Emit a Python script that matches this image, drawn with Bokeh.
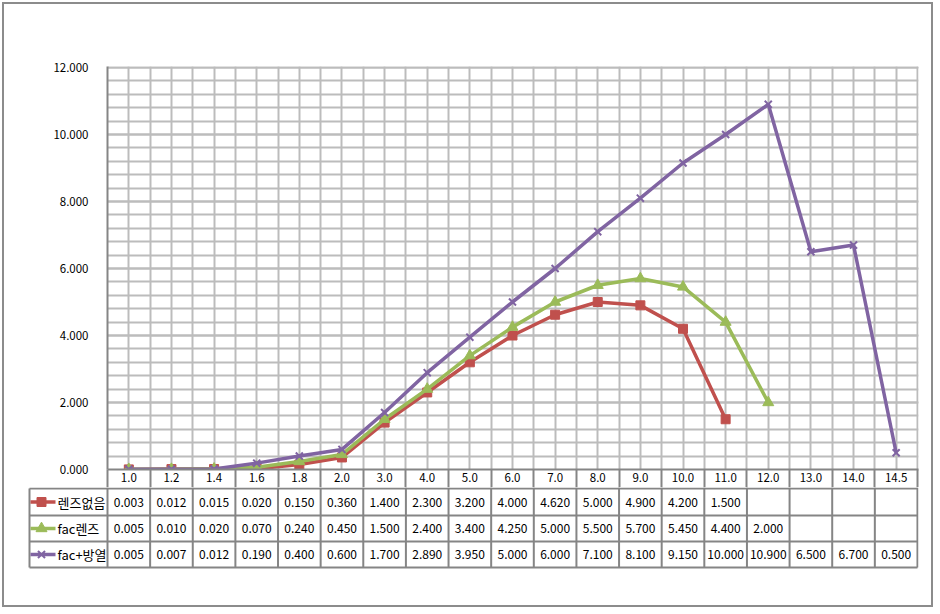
from bokeh.plotting import figure
from bokeh.layouts import column
from bokeh.models import Range1d, FixedTicker, NumeralTickFormatter, Label
from bokeh.core.properties import value
from bokeh.embed import file_html
from bokeh.resources import INLINE

# ---- data ----
categories = ["1.0", "1.2", "1.4", "1.6", "1.8", "2.0", "3.0", "4.0", "5.0", "6.0",
              "7.0", "8.0", "9.0", "10.0", "11.0", "12.0", "13.0", "14.0", "14.5"]
no_lens = [0.003, 0.012, 0.015, 0.020, 0.150, 0.360, 1.400, 2.300, 3.200, 4.000,
           4.620, 5.000, 4.900, 4.200, 1.500]
fac_lens = [0.005, 0.010, 0.020, 0.070, 0.240, 0.450, 1.500, 2.400, 3.400, 4.250,
            5.000, 5.500, 5.700, 5.450, 4.400, 2.000]
fac_heat = [0.005, 0.007, 0.012, 0.190, 0.400, 0.600, 1.700, 2.890, 3.950, 5.000,
            6.000, 7.100, 8.100, 9.150, 10.000, 10.900, 6.500, 6.700, 0.500]
series_names = ["렌즈없음", "fac렌즈", "fac+방열"]
y_ticks = [0, 2, 4, 6, 8, 10, 12]
y_title = "출력(W)"

# ---- styles ----
FONT = "Noto Sans CJK KR"
RED, GREEN, PURPLE = "#C0504D", "#9BBB59", "#8064A2"
GRID = "#bcbcbc"
BORDER = "#858585"
CAT_W = 42.63      # px per category
PX_Y = 33.5        # px per unit of output
X_END = 811 / CAT_W
LEG_L = -78 / CAT_W

series = [
    (series_names[0], no_lens, RED, "square", 9),
    (series_names[1], fac_lens, GREEN, "triangle", 11),
    (series_names[2], fac_heat, PURPLE, "x", 10),
]
ncat = len(categories)
centers = [i + 0.5 for i in range(ncat)]

# ---- chart (with category header row as its x axis) ----
p1 = figure(width=927, height=483, x_range=Range1d(0, X_END),
            y_range=Range1d(0, 12 + 1 / PX_Y), title=None,
            output_backend="svg", toolbar_location=None,
            min_border_left=103, min_border_right=13, min_border_top=62,
            min_border_bottom=18)
p1.frame_align = False
p1.outline_line_color = None

ax = p1.yaxis[0]
ax.ticker = FixedTicker(ticks=y_ticks, minor_ticks=[round(0.4 * i, 1) for i in range(31)])
ax.formatter = NumeralTickFormatter(format="0.000")
ax.major_tick_line_color = None
ax.minor_tick_line_color = None
ax.axis_line_color = BORDER
ax.axis_line_width = 2
ax.major_label_standoff = 13
ax.major_label_text_font = FONT
ax.major_label_text_font_size = "11.5px"
ax.major_label_text_color = "#000000"

xa = p1.xaxis[0]
xa.ticker = FixedTicker(ticks=centers, minor_ticks=list(range(ncat + 1)))
xa.major_label_overrides = {c: lab for c, lab in zip(centers, categories)}
xa.major_tick_line_color = None
xa.minor_tick_in = 0
xa.minor_tick_out = 18
xa.minor_tick_line_color = BORDER
xa.minor_tick_line_width = 2
xa.axis_line_color = BORDER
xa.axis_line_width = 2
xa.major_label_standoff = -15
xa.major_label_text_font = FONT
xa.major_label_text_font_size = "11.5px"
xa.major_label_text_color = "#000000"

p1.ygrid.grid_line_color = GRID
p1.ygrid.grid_line_width = 2
p1.ygrid.minor_grid_line_color = GRID
p1.ygrid.minor_grid_line_width = 2
p1.xgrid.grid_line_color = GRID
p1.xgrid.grid_line_width = 2
p1.xgrid.minor_grid_line_color = GRID
p1.xgrid.minor_grid_line_width = 2

for name, vals, col, mk, sz in series:
    xs = centers[:len(vals)]
    p1.line(xs, vals, line_color=col, line_width=3.5)
    if mk == "x":
        p1.scatter(xs, vals, marker=mk, size=sz, line_color=col, line_width=2)
    else:
        p1.scatter(xs, vals, marker=mk, size=sz, fill_color=col, line_color=col)

p1.add_layout(Label(x=-91 / CAT_W, y=6, text=y_title, text_font=FONT,
                    text_font_size="12px", text_font_style="bold",
                    text_align="left", text_baseline="middle", text_color="#000000"))

# ---- data table rows ----
p2 = figure(width=927, height=118, x_range=Range1d(-81 / CAT_W, X_END),
            y_range=Range1d(103, 18), x_axis_location=None, y_axis_location=None,
            title=None, output_backend="svg", toolbar_location=None,
            min_border_left=22, min_border_right=13, min_border_top=0,
            min_border_bottom=33)
p2.frame_align = False
p2.outline_line_color = None
p2.grid.visible = False

row_tops = [19, 46, 72, 98]
row_mid = [32.5, 59, 85]

p2.segment(x0=list(range(ncat + 1)), y0=[18] * (ncat + 1),
           x1=list(range(ncat + 1)), y1=[98] * (ncat + 1),
           line_color=BORDER, line_width=2)
p2.segment(x0=[LEG_L], y0=[19], x1=[LEG_L], y1=[98], line_color=BORDER, line_width=2)
p2.segment(x0=[LEG_L] * 4, y0=row_tops, x1=[ncat] * 4, y1=row_tops,
           line_color=BORDER, line_width=2)

for r, (name, vals, col, mk, sz) in enumerate(series):
    ym = row_mid[r]
    p2.text(x=centers[:len(vals)], y=[ym] * len(vals),
            text=[f"{v:.3f}" for v in vals], text_font=value(FONT),
            text_font_size="12px", text_align="center", text_baseline="middle",
            text_color="#000000")
    p2.line([-77 / CAT_W, -52 / CAT_W], [ym, ym], line_color=col, line_width=3.5)
    if mk == "x":
        p2.scatter([-66 / CAT_W], [ym], marker=mk, size=sz, line_color=col, line_width=2)
    else:
        p2.scatter([-66 / CAT_W], [ym], marker=mk, size=sz, fill_color=col, line_color=col)
    p2.text(x=[-50 / CAT_W], y=[ym], text=[name], text_font=value(FONT),
            text_font_size="13px", text_align="left", text_baseline="middle",
            text_color="#000000")

layout = column(p1, p2, styles={"border": "2px solid #8c8c8c", "margin": "2px"})
open("out.html", "w").write(file_html(layout, INLINE))
